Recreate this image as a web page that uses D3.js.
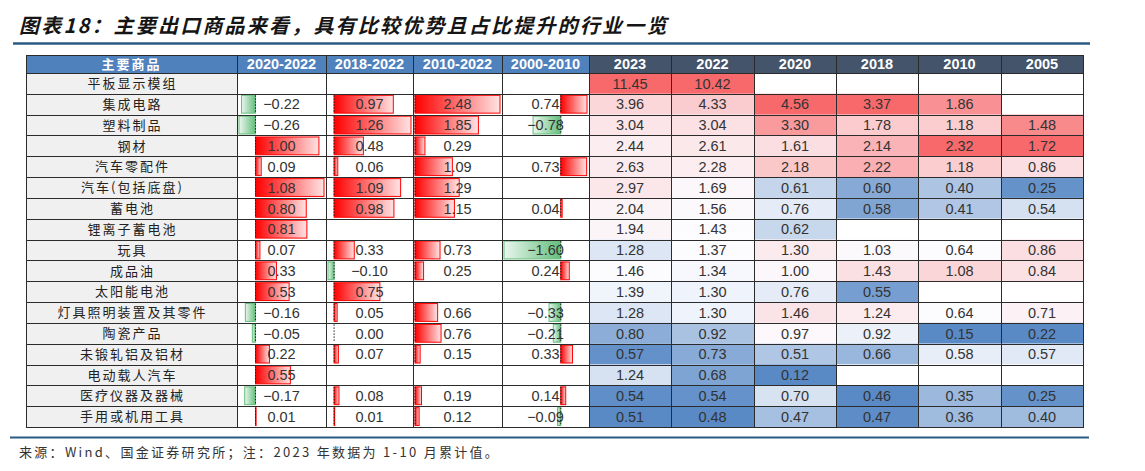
<!DOCTYPE html>
<html>
<head>
<meta charset="utf-8">
<script src="https://cdn.jsdelivr.net/npm/d3@7"></script>
<style>
  body { margin: 0; background: #fff; }
  svg { display: block; }
</style>
</head>
<body>
<div id="chart"></div>
<script>
// 主要商品
const products = ['平板显示模组', '集成电路', '塑料制品', '钢材', '汽车零配件', '汽车(包括底盘)', '蓄电池',
    '锂离子蓄电池', '玩具', '成品油', '太阳能电池', '灯具照明装置及其零件', '陶瓷产品', '未锻轧铝及铝材',
    '电动载人汽车', '医疗仪器及器械', '手用或机用工具'];

// 占比变化（数据条）
const periodCols = ['2020-2022', '2018-2022', '2010-2022', '2000-2010'];
const chg2020_2022 = [null, -0.22, -0.26, 1.00, 0.09, 1.08, 0.80, 0.81, 0.07, 0.33, 0.53, -0.16, -0.05, 0.22, 0.55, -0.17, 0.01];
const chg2018_2022 = [null, 0.97, 1.26, 0.48, 0.06, 1.09, 0.98, null, 0.33, -0.10, 0.75, 0.05, 0.00, 0.07, null, 0.08, 0.01];
const chg2010_2022 = [null, 2.48, 1.85, 0.29, 1.09, 1.29, 1.15, null, 0.73, 0.25, null, 0.66, 0.76, 0.15, null, 0.19, 0.12];
const chg2000_2010 = [null, 0.74, -0.78, null, 0.73, null, 0.04, null, -1.60, 0.24, null, -0.33, -0.21, 0.33, null, 0.14, -0.09];

// 各年份数值（色阶）
const yearCols = ['2023', '2022', '2020', '2018', '2010', '2005'];
const y2023 = [11.45, 3.96, 3.04, 2.44, 2.63, 2.97, 2.04, 1.94, 1.28, 1.46, 1.39, 1.28, 0.80, 0.57, 1.24, 0.54, 0.51];
const y2022 = [10.42, 4.33, 3.04, 2.61, 2.28, 1.69, 1.56, 1.43, 1.37, 1.34, 1.30, 1.30, 0.92, 0.73, 0.68, 0.54, 0.48];
const y2020 = [null, 4.56, 3.30, 1.61, 2.18, 0.61, 0.76, 0.62, 1.30, 1.00, 0.76, 1.46, 0.97, 0.51, 0.12, 0.70, 0.47];
const y2018 = [null, 3.37, 1.78, 2.14, 2.22, 0.60, 0.58, null, 1.03, 1.43, 0.55, 1.24, 0.92, 0.66, null, 0.46, 0.47];
const y2010 = [null, 1.86, 1.18, 2.32, 1.18, 0.40, 0.41, null, 0.64, 1.08, null, 0.64, 0.15, 0.58, null, 0.35, 0.36];
const y2005 = [null, null, 1.48, 1.72, 0.86, 0.25, 0.54, null, 0.86, 0.84, null, 0.71, 0.22, 0.57, null, 0.25, 0.40];

const periodData = [chg2020_2022, chg2018_2022, chg2010_2022, chg2000_2010];
const yearData = [y2023, y2022, y2020, y2018, y2010, y2005];

const title = '图表18：主要出口商品来看，具有比较优势且占比提升的行业一览';
const source = '来源：Wind、国金证券研究所；注：2023 年数据为 1-10 月累计值。';

const width = 1145, height = 471;
const edges = [26, 237, 326, 413, 502, 589, 671, 754, 836, 918, 1001, 1083];
const headTop = 55, bodyTop = 73, bodyBottom = 427;
const cjk = '"Noto Sans CJK SC", "Noto Sans", sans-serif';
const num = '"Liberation Sans", Arial, sans-serif';
const fmt = d3.format('.2f');

const svg = d3.select('#chart').append('svg')
    .attr('width', width)
    .attr('height', height);

const defs = svg.append('defs');
const gPos = defs.append('linearGradient').attr('id', 'gPos');
gPos.append('stop').attr('offset', '0%').attr('stop-color', '#ff0000');
gPos.append('stop').attr('offset', '100%').attr('stop-color', '#ffe3e3');
const gNeg = defs.append('linearGradient').attr('id', 'gNeg');
gNeg.append('stop').attr('offset', '0%').attr('stop-color', '#eaf6ee');
gNeg.append('stop').attr('offset', '100%').attr('stop-color', '#63be7b');

// title
svg.append('text')
    .attr('x', 19).attr('y', 33)
    .attr('font-family', cjk).attr('font-size', 20).attr('font-weight', 'bold')
    .attr('font-style', 'italic').attr('letter-spacing', 2.2)
    .attr('fill', '#151515')
    .text(title);
svg.append('line')
    .attr('x1', 13).attr('x2', 1090).attr('y1', 43.5).attr('y2', 43.5)
    .attr('stroke', '#2a5a84').attr('stroke-width', 2.5);

const y = d3.scaleBand().domain(products).range([bodyTop, bodyBottom]);

// header
const heads = ['主要商品'].concat(periodCols, yearCols);
heads.forEach((h, i) => {
    svg.append('rect')
        .attr('x', edges[i]).attr('y', headTop)
        .attr('width', edges[i + 1] - edges[i]).attr('height', bodyTop - headTop)
        .attr('fill', i < 5 ? '#4f81bd' : '#44546a');
    svg.append('text')
        .attr('x', (edges[i] + edges[i + 1]) / 2).attr('y', (headTop + bodyTop) / 2)
        .attr('dy', '0.36em').attr('text-anchor', 'middle')
        .attr('font-family', i === 0 ? cjk : num).attr('font-weight', 'bold')
        .attr('font-size', i === 0 ? 13 : 14.5)
        .attr('letter-spacing', i === 0 ? 2 : 0)
        .attr('fill', '#fff')
        .text(h);
});

// label column
svg.append('rect')
    .attr('x', edges[0]).attr('y', bodyTop)
    .attr('width', edges[1] - edges[0]).attr('height', bodyBottom - bodyTop)
    .attr('fill', '#f0f0f0');
svg.selectAll('.label')
    .data(products)
    .enter().append('text')
    .attr('class', 'label')
    .attr('x', (edges[0] + edges[1]) / 2 + 1)
    .attr('y', d => y(d) + y.bandwidth() / 2)
    .attr('dy', '0.36em').attr('text-anchor', 'middle')
    .attr('font-family', cjk).attr('font-size', 13).attr('letter-spacing', 2)
    .attr('fill', '#222')
    .text(d => d);

// data bars
periodData.forEach((vals, c) => {
    const x0 = edges[c + 1], x1 = edges[c + 2];
    const x = d3.scaleLinear()
        .domain([Math.min(0, d3.min(vals)), Math.max(0, d3.max(vals))])
        .range([x0 + 2, x1 - 2]);
    const cells = svg.append('g').selectAll('g')
        .data(vals.map((v, i) => ({ v: v, p: products[i] })).filter(d => d.v !== null))
        .enter().append('g');
    cells.append('rect')
        .attr('x', d => Math.min(x(0), x(d.v)))
        .attr('y', d => y(d.p) + 1.5)
        .attr('width', d => Math.abs(x(d.v) - x(0)))
        .attr('height', y.bandwidth() - 3)
        .attr('fill', d => d.v >= 0 ? 'url(#gPos)' : 'url(#gNeg)')
        .attr('stroke', d => d.v >= 0 ? '#ff0000' : '#63be7b')
        .attr('stroke-width', 1);
    cells.append('line')
        .attr('x1', x(0)).attr('x2', x(0))
        .attr('y1', d => y(d.p) + 1.5)
        .attr('y2', d => y(d.p) + y.bandwidth() - 1.5)
        .attr('stroke', '#222').attr('stroke-width', 1)
        .attr('stroke-dasharray', '1.5,1.5');
    cells.append('text')
        .attr('x', (x0 + x1) / 2)
        .attr('y', d => y(d.p) + y.bandwidth() / 2)
        .attr('dy', '0.36em').attr('text-anchor', 'middle')
        .attr('font-family', num).attr('font-size', 14.5)
        .attr('fill', '#333')
        .text(d => d.v < 0 ? '\u2212' + fmt(-d.v) : fmt(d.v));
});

// colour scale cells
yearData.forEach((vals, c) => {
    const x0 = edges[c + 5], x1 = edges[c + 6];
    const present = vals.filter(v => v !== null);
    const color = d3.scaleLinear()
        .domain([d3.min(present), d3.median(present), d3.max(present)])
        .range(['#5a8ac6', '#fcfcff', '#f8696b'])
        .interpolate(d3.interpolateRgb);
    const cells = svg.append('g').selectAll('g')
        .data(vals.map((v, i) => ({ v: v, p: products[i] })))
        .enter().append('g');
    cells.append('rect')
        .attr('x', x0).attr('y', d => y(d.p))
        .attr('width', x1 - x0).attr('height', y.bandwidth())
        .attr('fill', d => d.v === null ? '#fff' : color(d.v));
    cells.filter(d => d.v !== null).append('text')
        .attr('x', (x0 + x1) / 2)
        .attr('y', d => y(d.p) + y.bandwidth() / 2)
        .attr('dy', '0.36em').attr('text-anchor', 'middle')
        .attr('font-family', num).attr('font-size', 14.5)
        .attr('fill', '#333')
        .text(d => fmt(d.v));
});

// grid
const grid = svg.append('g').attr('stroke', '#2b2b2b').attr('stroke-width', 1).attr('shape-rendering', 'crispEdges');
products.forEach(p => {
    grid.append('line')
        .attr('x1', edges[0]).attr('x2', edges[edges.length - 1])
        .attr('y1', Math.round(y(p)) + 0.5).attr('y2', Math.round(y(p)) + 0.5);
});
grid.append('line')
    .attr('x1', edges[0]).attr('x2', edges[edges.length - 1])
    .attr('y1', bodyBottom + 0.5).attr('y2', bodyBottom + 0.5);
grid.append('line')
    .attr('x1', edges[0]).attr('x2', edges[edges.length - 1])
    .attr('y1', headTop + 0.5).attr('y2', headTop + 0.5);
edges.forEach(e => {
    grid.append('line')
        .attr('x1', e + 0.5).attr('x2', e + 0.5)
        .attr('y1', headTop).attr('y2', bodyBottom + 1);
});

// source
svg.append('line')
    .attr('x1', 10).attr('x2', 1089).attr('y1', 437.5).attr('y2', 437.5)
    .attr('stroke', '#2a5a84').attr('stroke-width', 2);
svg.append('text')
    .attr('x', 19).attr('y', 457)
    .attr('font-family', cjk).attr('font-size', 13).attr('letter-spacing', 2.3)
    .attr('fill', '#333')
    .text(source);
</script>
</body>
</html>
